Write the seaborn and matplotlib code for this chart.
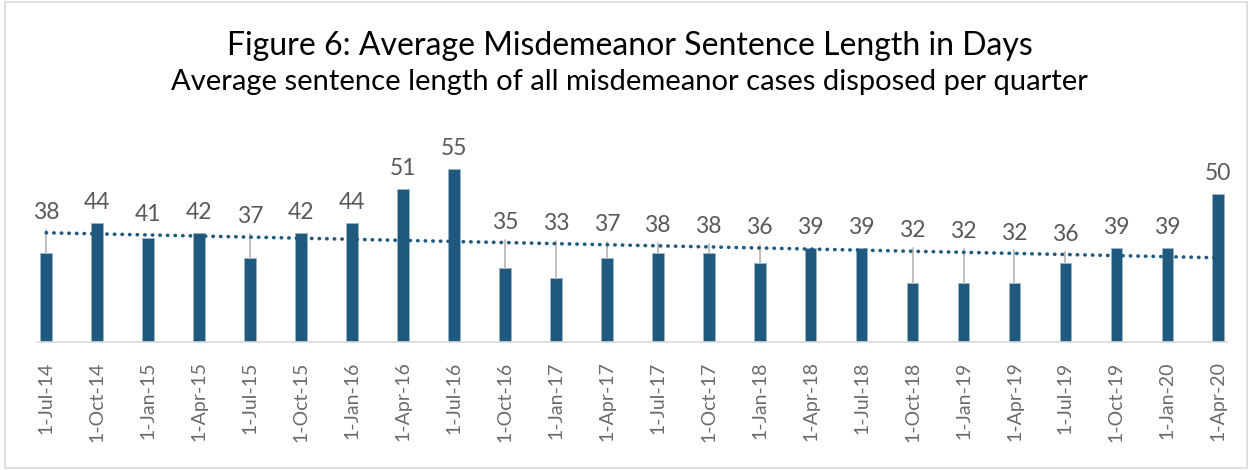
import matplotlib
matplotlib.use("Agg")
import matplotlib.pyplot as plt
import numpy as np
import pandas as pd
import seaborn as sns
from matplotlib.patches import Rectangle

quarters = ["1-Jul-14", "1-Oct-14", "1-Jan-15", "1-Apr-15", "1-Jul-15", "1-Oct-15",
            "1-Jan-16", "1-Apr-16", "1-Jul-16", "1-Oct-16", "1-Jan-17", "1-Apr-17",
            "1-Jul-17", "1-Oct-17", "1-Jan-18", "1-Apr-18", "1-Jul-18", "1-Oct-18",
            "1-Jan-19", "1-Apr-19", "1-Jul-19", "1-Oct-19", "1-Jan-20", "1-Apr-20"]
avg_days = [38, 44, 41, 42, 37, 42, 44, 51, 55, 35, 33, 37,
            38, 38, 36, 39, 39, 32, 32, 32, 36, 39, 39, 50]

title = "Figure 6: Average Misdemeanor Sentence Length in Days"
subtitle = "Average sentence length of all misdemeanor cases disposed per quarter"

BAR = "#1F5A7E"
GREY = "#595959"

sns.set_style("white")
plt.rcParams["font.family"] = ["Lato", "DejaVu Sans"]

df = pd.DataFrame({"quarter": quarters, "days": avg_days})

fig = plt.figure(figsize=(12.52, 4.7), dpi=100)
ax = fig.add_axes([37 / 1252, 128 / 470, 1190 / 1252, 198 / 470])

sns.barplot(data=df, x="quarter", y="days", color=BAR, width=0.23,
            saturation=1, edgecolor="#9DB5C6", linewidth=0.6, ax=ax)

# linear trend line, as Excel would draw it
idx = np.arange(len(avg_days))
slope, icpt = np.polyfit(idx, avg_days, 1)
trend = slope * idx + icpt
ax.plot(idx, trend, color=BAR, lw=2.6, linestyle=(0, (0.1, 2.0)),
        dash_capstyle="round", zorder=3)

# data labels with leader lines
for i, v in enumerate(avg_days):
    top = max(v, trend[i])
    ly = top + 2.0
    ax.text(i, ly, str(v), ha="center", va="bottom", fontsize=16.5,
            color=GREY, clip_on=False)
    if trend[i] > v + 1:
        ax.plot([i, i], [v, trend[i] + 0.6], color="#BFBFBF", lw=1.4, zorder=1)

ax.set_ylim(20, 60)
ax.set_xlim(-0.18, len(avg_days) - 1 + 0.17)
ax.set_yticks([])
ax.set_xlabel("")
ax.set_ylabel("")
ax.tick_params(axis="x", length=0, pad=14, labelsize=14, labelcolor="#6B6B6B")
plt.setp(ax.get_xticklabels(), rotation=90)
sns.despine(ax=ax, left=True, top=True, right=True)
ax.spines["bottom"].set_color("#D9D9D9")
ax.spines["bottom"].set_linewidth(1.2)

fig.text(0.503, 0.882, title, ha="center", va="baseline", fontsize=23,
         color="black")
fig.text(0.503, 0.808, subtitle, ha="center", va="baseline", fontsize=21,
         color="black")

fig.patches.append(Rectangle((0.004, 0.004), 0.992, 0.992, transform=fig.transFigure,
                             fill=False, edgecolor="#D9D9D9", lw=1.2))

fig.savefig("out.png", dpi=100)
